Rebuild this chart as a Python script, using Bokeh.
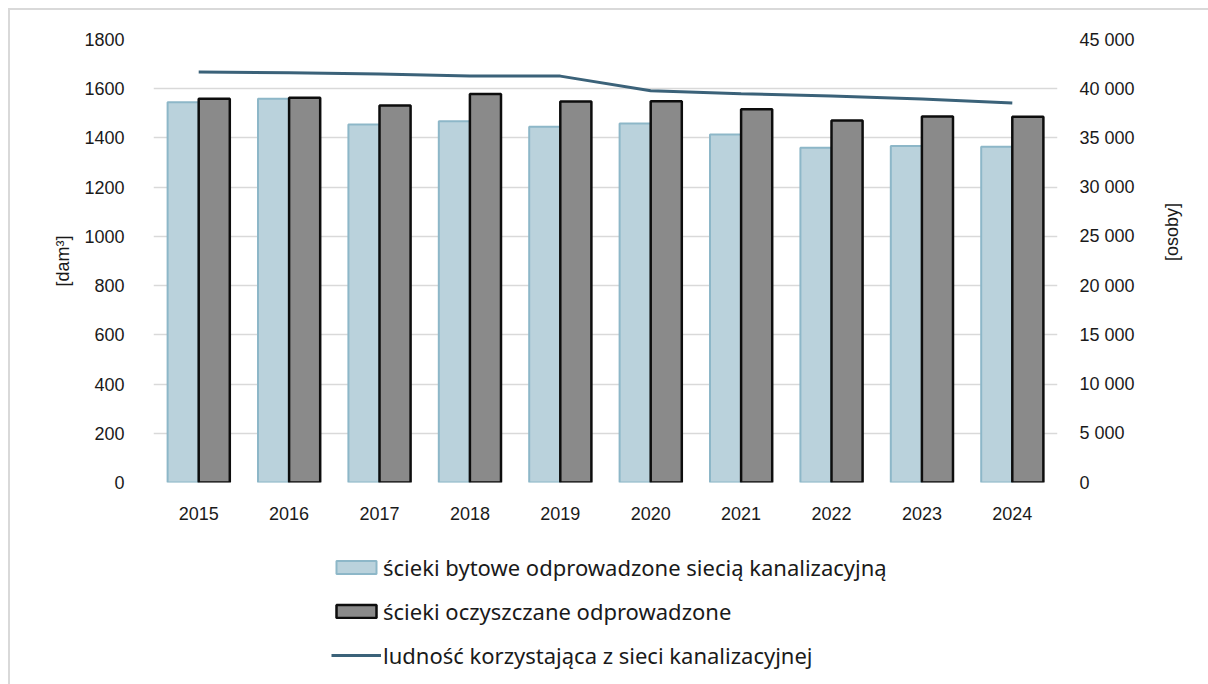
import math
from bokeh.plotting import figure
from bokeh.layouts import column
from bokeh.models import (ColumnDataSource, FactorRange, Range1d, LinearAxis,
                          FixedTicker, Legend, LegendItem)
from bokeh.transform import dodge
from bokeh.embed import file_html
from bokeh.resources import INLINE

years = ["2015", "2016", "2017", "2018", "2019", "2020", "2021", "2022", "2023", "2024"]
bytowe = [1545, 1559, 1455, 1468, 1445, 1459, 1414, 1360, 1367, 1364]
oczyszczane = [1559, 1563, 1532, 1579, 1548, 1549, 1517, 1471, 1487, 1486]
ludnosc = [41690, 41630, 41490, 41280, 41280, 39800, 39490, 39250, 38950, 38540]

left_ticks = [0, 200, 400, 600, 800, 1000, 1200, 1400, 1600, 1800]
left_labels = ["0", "200", "400", "600", "800", "1000", "1200", "1400", "1600", "1800"]
right_ticks = [0, 5000, 10000, 15000, 20000, 25000, 30000, 35000, 40000, 45000]
right_labels = ["0", "5 000", "10 000", "15 000", "20 000", "25 000", "30 000",
                "35 000", "40 000", "45 000"]

series_names = ["ścieki bytowe odprowadzone siecią kanalizacyjną",
                "ścieki oczyszczane odprowadzone",
                "ludność korzystająca z sieci kanalizacyjnej"]

src = ColumnDataSource(dict(year=years, a=bytowe, b=oczyszczane, c=ludnosc))

W = 1198
H1 = 517
H2 = 674 - H1

LIGHT = dict(fill_color="#bad2dc", line_color="#8db7c8", line_width=2)
DARK = dict(fill_color="#8a8a8a", line_color="#0d0d0d", line_width=2.5)
LINE = dict(line_color="#3b6279", line_width=3)

p = figure(x_range=FactorRange(*years, range_padding=0), y_range=Range1d(0, 1800),
           width=W, height=H1, output_backend="svg", toolbar_location=None,
           min_border_left=143, min_border_right=151, min_border_top=29,
           min_border_bottom=45)
p.outline_line_color = None
p.background_fill_color = "white"
p.border_fill_color = "white"

p.extra_y_ranges = {"right": Range1d(0, 45000)}

FONT = "Liberation Sans"

# grid
p.xgrid.grid_line_color = None
p.ygrid.grid_line_color = "#d9d9d9"
p.ygrid.grid_line_width = 1.5
p.ygrid.ticker = FixedTicker(ticks=left_ticks)

bw = 0.344
r1 = p.vbar(x=dodge("year", -bw / 2, range=p.x_range), top="a", width=bw, source=src,
            **LIGHT)
r2 = p.vbar(x=dodge("year", bw / 2, range=p.x_range), top="b", width=bw, source=src,
            **DARK)
r3 = p.line(x="year", y="c", source=src, y_range_name="right", **LINE)


def style_axis(ax, standoff):
    ax.axis_line_color = None
    ax.major_tick_line_color = None
    ax.minor_tick_line_color = None
    ax.major_tick_out = 0
    ax.major_tick_in = 0
    ax.minor_tick_out = 0
    ax.major_label_text_font = FONT
    ax.major_label_text_font_size = "18px"
    ax.major_label_text_color = "#1a1a1a"
    ax.major_label_standoff = standoff
    ax.axis_label_text_font = FONT
    ax.axis_label_text_font_size = "18px"
    ax.axis_label_text_font_style = "normal"
    ax.axis_label_text_color = "#1a1a1a"


# left axis
ya = p.yaxis[0]
ya.ticker = FixedTicker(ticks=left_ticks)
ya.major_label_overrides = {t: l for t, l in zip(left_ticks, left_labels)}
style_axis(ya, 29)
ya.axis_label = "[dam³]"
ya.axis_label_standoff = 8

# right axis
ra = LinearAxis(y_range_name="right", ticker=FixedTicker(ticks=right_ticks))
ra.major_label_overrides = {t: l for t, l in zip(right_ticks, right_labels)}
style_axis(ra, 22)
ra.axis_label = "[osoby]"
ra.axis_label_standoff = 34
ra.axis_label_orientation = math.pi / 2
p.add_layout(ra, "right")

# x axis
xa = p.xaxis[0]
style_axis(xa, 24)

# legend figure: its glyphs share the data but are zero-width and lie far
# outside the view range, so only the legend swatches are visible
p2 = figure(width=W, height=H2, output_backend="svg", toolbar_location=None,
            x_axis_type=None, y_axis_type=None, min_border=0,
            x_range=FactorRange(*years), y_range=Range1d(1e7, 1e7 + 1))
p2.outline_line_color = None
p2.background_fill_color = "white"
p2.border_fill_color = "white"
p2.grid.visible = False
e1 = p2.vbar(x="year", top="a", bottom="a", width=0, source=src, **LIGHT)
e2 = p2.vbar(x="year", top="b", bottom="b", width=0, source=src, **DARK)
e3 = p2.line(x="year", y="c", source=src, **LINE)

legend = Legend(items=[LegendItem(label=series_names[0], renderers=[e1]),
                       LegendItem(label=series_names[1], renderers=[e2]),
                       LegendItem(label=series_names[2], renderers=[e3])],
                location=(178, 14), orientation="vertical")
legend.padding = 0
legend.margin = 0
legend.border_line_color = None
legend.background_fill_alpha = 0
legend.glyph_width = 50
legend.glyph_height = 16
legend.label_standoff = 2
legend.spacing = 14
legend.label_height = 20
legend.label_text_font = "Noto Sans"
legend.label_text_font_size = "22px"
legend.label_text_color = "#1a1a1a"
p2.add_layout(legend, "center")

layout = column(p, p2, spacing=0,
                styles={"border-left": "2px solid #d9d9d9",
                        "border-top": "2px solid #d9d9d9",
                        "margin-left": "8px", "margin-top": "8px"})

open("out.html", "w").write(file_html(layout, INLINE))
